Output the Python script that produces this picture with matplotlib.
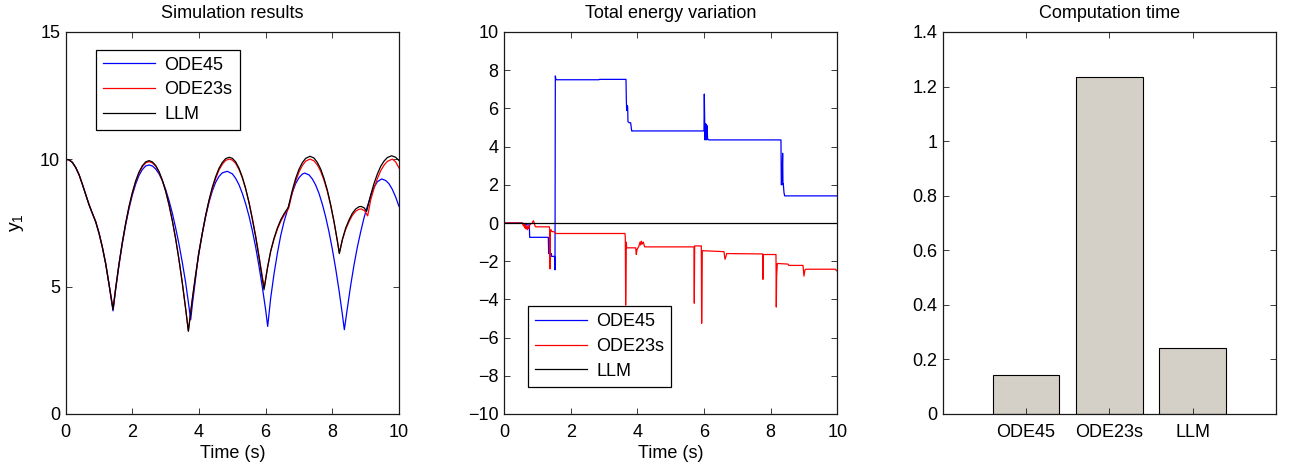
import matplotlib
matplotlib.use("Agg")
import matplotlib.pyplot as plt
from matplotlib.ticker import FormatStrFormatter

plt.rcParams['font.family'] = ['Liberation Sans', 'DejaVu Sans']
plt.rcParams['mathtext.fontset'] = 'custom'
plt.rcParams['mathtext.rm'] = 'Liberation Sans'
plt.rcParams['mathtext.it'] = 'Liberation Sans'
plt.rcParams['axes.unicode_minus'] = True

# ---------------- data: simulation results (y1) ----------------
llm_t = [0, 0.1, 0.2, 0.3, 0.4, 0.5, 0.6, 0.7, 0.77, 0.9, 1.0, 1.1, 1.2, 1.3, 1.42,
         1.5, 1.6, 1.7, 1.8, 1.9, 2.0, 2.1, 2.2, 2.3, 2.4, 2.5, 2.6, 2.7, 2.8, 2.9,
         3.0, 3.1, 3.2, 3.3, 3.4, 3.5, 3.6, 3.68, 3.8, 3.9, 4.0, 4.1, 4.2, 4.3, 4.4,
         4.5, 4.6, 4.7, 4.8, 4.91, 5.0, 5.1, 5.2, 5.3, 5.4, 5.5, 5.6, 5.7, 5.8, 5.9,
         5.95, 6.05, 6.15, 6.25, 6.35, 6.45, 6.55, 6.68, 6.8, 6.9, 7.0, 7.1, 7.2,
         7.33, 7.45, 7.55, 7.65, 7.75, 7.85, 7.95, 8.05, 8.15, 8.21, 8.3, 8.4, 8.5,
         8.6, 8.7, 8.8, 8.86, 8.95, 9.03, 9.15, 9.25, 9.35, 9.45, 9.55, 9.65, 9.78,
         9.9, 10.0]
llm_y = [10.0, 9.98, 9.88, 9.68, 9.40, 9.02, 8.62, 8.22, 7.98, 7.55, 7.10, 6.55, 5.90, 5.10, 4.10,
         4.95, 5.90, 6.75, 7.50, 8.15, 8.70, 9.15, 9.50, 9.75, 9.90, 9.95, 9.90, 9.76, 9.52, 9.18,
         8.75, 8.22, 7.59, 6.87, 6.05, 5.13, 4.12, 3.25, 4.52, 5.48, 6.35, 7.12, 7.81, 8.40, 8.91,
         9.32, 9.65, 9.88, 10.03, 10.08, 10.04, 9.90, 9.65, 9.30, 8.85, 8.30, 7.65, 6.95, 6.15, 5.30,
         4.88, 5.70, 6.40, 6.90, 7.30, 7.62, 7.86, 8.12, 8.79, 9.25, 9.61, 9.87, 10.04,
         10.12, 10.05, 9.88, 9.62, 9.25, 8.79, 8.22, 7.56, 6.80, 6.30, 6.85, 7.30, 7.62,
         7.88, 8.05, 8.14, 8.15, 8.10, 7.96, 8.60, 9.05, 9.42, 9.72, 9.93, 10.07, 10.14,
         10.08, 9.95]

ode23s_t = [0, 0.1, 0.2, 0.3, 0.4, 0.5, 0.6, 0.7, 0.77, 0.9, 1.0, 1.1, 1.2, 1.3, 1.42,
            1.5, 1.6, 1.7, 1.8, 1.9, 2.0, 2.1, 2.2, 2.3, 2.4, 2.5, 2.6, 2.7, 2.8, 2.9,
            3.0, 3.1, 3.2, 3.3, 3.4, 3.5, 3.6, 3.68, 3.8, 3.9, 4.0, 4.1, 4.2, 4.3, 4.4,
            4.5, 4.6, 4.7, 4.8, 4.91, 5.0, 5.1, 5.2, 5.3, 5.4, 5.5, 5.6, 5.7, 5.8, 5.9,
            5.96, 6.05, 6.15, 6.25, 6.35, 6.45, 6.55, 6.69, 6.8, 6.9, 7.0, 7.1, 7.2,
            7.33, 7.45, 7.55, 7.65, 7.75, 7.85, 7.95, 8.05, 8.15, 8.21, 8.3, 8.4, 8.5,
            8.6, 8.7, 8.8, 8.87, 8.97, 9.06, 9.15, 9.25, 9.35, 9.45, 9.55, 9.65, 9.8,
            9.9, 10.0]
ode23s_y = [10.0, 9.98, 9.88, 9.68, 9.40, 9.02, 8.62, 8.22, 7.98, 7.55, 7.10, 6.55, 5.90, 5.10, 4.12,
            4.95, 5.90, 6.74, 7.48, 8.13, 8.67, 9.12, 9.47, 9.71, 9.86, 9.91, 9.86, 9.73, 9.50, 9.16,
            8.74, 8.21, 7.58, 6.87, 6.05, 5.13, 4.12, 3.26, 4.52, 5.48, 6.34, 7.10, 7.78, 8.36, 8.85,
            9.25, 9.58, 9.81, 9.96, 10.01, 9.97, 9.84, 9.60, 9.27, 8.84, 8.31, 7.68, 6.99, 6.21, 5.39,
            4.98, 5.72, 6.38, 6.86, 7.25, 7.56, 7.80, 8.08, 8.70, 9.15, 9.50, 9.76, 9.93,
            10.01, 9.94, 9.78, 9.53, 9.18, 8.74, 8.19, 7.54, 6.80, 6.32, 6.83, 7.25, 7.55,
            7.80, 7.96, 8.04, 8.05, 7.98, 7.78, 8.40, 8.86, 9.24, 9.55, 9.77, 9.92, 10.01,
            9.90, 9.66]

ode45_t = [0, 0.1, 0.2, 0.3, 0.4, 0.5, 0.6, 0.7, 0.77, 0.9, 1.0, 1.1, 1.2, 1.3, 1.42,
           1.5, 1.6, 1.7, 1.8, 1.9, 2.0, 2.1, 2.2, 2.3, 2.4, 2.5, 2.6, 2.7, 2.8, 2.9,
           3.0, 3.1, 3.2, 3.3, 3.4, 3.5, 3.6, 3.7, 3.75, 3.8, 3.9, 3.98, 4.1, 4.2, 4.3,
           4.4, 4.5, 4.6, 4.7, 4.85, 5.0, 5.1, 5.2, 5.3, 5.4, 5.5, 5.6, 5.7, 5.8, 5.9,
           6.0, 6.06, 6.15, 6.25, 6.35, 6.45, 6.55, 6.68, 6.8, 6.9, 7.0, 7.1, 7.17,
           7.3, 7.4, 7.5, 7.6, 7.7, 7.8, 7.9, 8.0, 8.1, 8.2, 8.3, 8.36, 8.45, 8.55,
           8.65, 8.75, 8.85, 8.95, 9.05, 9.15, 9.25, 9.35, 9.48, 9.6, 9.7, 9.8, 9.9, 10.0]
ode45_y = [10.0, 9.98, 9.88, 9.68, 9.40, 9.02, 8.62, 8.22, 7.98, 7.55, 7.10, 6.55, 5.90, 5.08, 4.05,
           4.90, 5.85, 6.70, 7.43, 8.07, 8.60, 9.03, 9.37, 9.60, 9.74, 9.78, 9.74, 9.62, 9.43, 9.16,
           8.81, 8.38, 7.88, 7.30, 6.66, 5.94, 5.15, 4.20, 3.70, 4.30, 5.35, 6.25, 7.10, 7.76, 8.32,
           8.76, 9.10, 9.33, 9.47, 9.53, 9.43, 9.25, 9.00, 8.66, 8.25, 7.77, 7.20, 6.55, 5.80, 4.98,
           4.08, 3.44, 4.55, 5.50, 6.30, 7.00, 7.55, 8.12, 8.70, 9.05, 9.28, 9.42, 9.46,
           9.39, 9.23, 8.99, 8.66, 8.24, 7.74, 7.15, 6.47, 5.71, 4.86, 3.92, 3.31, 4.15, 5.05,
           5.85, 6.55, 7.15, 7.70, 8.15, 8.55, 8.90, 9.12, 9.23, 9.17, 9.04, 8.82, 8.52, 8.15]

# ---------------- data: total energy variation ----------------
e45_t = [0, 0.55, 0.6, 0.7, 0.76, 0.77, 1.33, 1.34, 1.42, 1.43, 1.52, 1.53, 1.54, 1.56,
         2.85, 2.86, 3.66, 3.67, 3.68, 3.69, 3.71, 3.72, 3.76, 3.80, 3.83, 3.84,
         6.00, 6.01, 6.02, 6.03, 6.05, 6.06, 6.07, 6.08, 6.09, 6.11, 6.14,
         8.31, 8.32, 8.34, 8.36, 8.37, 8.38, 8.40, 8.42, 10.0]
e45_E = [0, 0, -0.05, -0.1, -0.1, -0.75, -0.75, -1.6, -1.6, -1.75, -1.75, -2.45, 7.7, 7.5,
         7.5, 7.52, 7.52, 6.5, 5.9, 6.15, 6.1, 5.3, 5.25, 5.25, 4.82, 4.82,
         4.82, 6.75, 5.5, 4.35, 5.2, 4.4, 5.15, 4.35, 5.1, 4.4, 4.35,
         4.35, 2.0, 2.1, 3.65, 2.0, 2.05, 1.6, 1.42, 1.42]

e23_t = [0, 0.55, 0.58, 0.6, 0.62, 0.64, 0.66, 0.68, 0.70, 0.72, 0.74, 0.76, 0.80, 0.85,
         0.88, 0.90, 0.93, 0.95, 1.36, 1.37, 1.38, 1.39, 1.41, 1.44, 1.50, 1.55,
         3.63, 3.64, 3.65, 3.67, 3.68, 3.95, 3.97, 3.99, 4.05, 4.08, 4.10, 4.12, 4.15,
         4.18, 4.22, 5.70, 5.71, 5.72, 5.92, 5.93, 5.95, 6.60, 6.63, 6.66, 6.68,
         7.76, 7.77, 7.78, 8.16, 8.17, 8.18, 8.20, 8.52, 8.54, 8.97, 9.00, 9.03, 9.06,
         9.95, 9.97, 10.0]
e23_E = [0, 0, -0.15, -0.05, -0.25, -0.1, -0.3, -0.15, -0.35, -0.2, -0.3, -0.15, -0.05, 0.0,
         0.12, 0.05, -0.15, -0.2, -0.2, -0.3, -2.4, -0.5, -0.35, -0.45, -0.45, -0.55,
         -0.55, -0.8, -4.3, -1.0, -1.3, -1.3, -1.65, -1.4, -1.2, -1.0, -1.15, -0.95, -1.1,
         -1.0, -1.25, -1.25, -4.2, -1.2, -1.2, -5.25, -1.45, -1.5, -1.9, -1.75, -1.6,
         -1.62, -2.95, -1.65, -1.65, -4.4, -2.8, -2.12, -2.15, -2.22, -2.22, -2.78, -2.45, -2.42,
         -2.42, -2.5, -2.5]

ellm_t = [0, 10]
ellm_E = [0, 0]

# ---------------- data: computation time ----------------
methods = ['ODE45', 'ODE23s', 'LLM']
comp_time = [0.142, 1.234, 0.241]

labels = ['ODE45', 'ODE23s', 'LLM']
colors = ['#0000ff', '#ff0000', '#000000']

fig = plt.figure(figsize=(12.9, 4.68), dpi=100)
W, H = 1290, 468
def add_ax(x0):
    return fig.add_axes([x0 / W, 1 - 414 / H, 333.3 / W, 382 / H])

ax1 = add_ax(65.7)
ax2 = add_ax(504)
ax3 = add_ax(942.7)

FS = 13
def style(ax):
    for s in ax.spines.values():
        s.set_linewidth(0.9)
        s.set_color('#1a1a1a')
    ax.tick_params(direction='in', top=True, right=True, length=4, width=0.6,
                   labelsize=FS, colors='#1a1a1a', labelcolor='black')
    ax.tick_params(axis='y', pad=4)
    ax.tick_params(axis='x', pad=7)

legkw = dict(borderaxespad=0, fancybox=False, edgecolor='black', fontsize=FS,
             handlelength=2.9, handletextpad=0.5, labelspacing=0.42,
             borderpad=0.4, framealpha=1)

# left
for t, y, lab, c in zip([ode45_t, ode23s_t, llm_t], [ode45_y, ode23s_y, llm_y], labels, colors):
    ax1.plot(t, y, color=c, lw=0.9, label=lab)
ax1.set_xlim(0, 10)
ax1.set_ylim(0, 15)
ax1.set_xticks([0, 2, 4, 6, 8, 10])
ax1.set_yticks([0, 5, 10, 15])
ax1.set_title('Simulation results', fontsize=FS, pad=10)
ax1.set_xlabel('Time (s)', fontsize=FS, labelpad=3)
ax1.set_ylabel(r'$\mathrm{y}_1$', fontsize=FS + 1, labelpad=10)
style(ax1)
leg1 = ax1.legend(loc='upper left', bbox_to_anchor=(0.09, 0.954), **legkw)
leg1.get_frame().set_linewidth(0.9)

# middle
for t, e, lab, c in zip([e45_t, e23_t, ellm_t], [e45_E, e23_E, ellm_E], labels, colors):
    ax2.plot(t, e, color=c, lw=0.9, label=lab)
ax2.set_xlim(0, 10)
ax2.set_ylim(-10, 10)
ax2.set_xticks([0, 2, 4, 6, 8, 10])
ax2.set_yticks(list(range(-10, 11, 2)))
ax2.set_title('Total energy variation', fontsize=FS, pad=10)
ax2.set_xlabel('Time (s)', fontsize=FS, labelpad=3)
style(ax2)
leg2 = ax2.legend(loc='lower left', bbox_to_anchor=(0.071, 0.0714), **legkw)
leg2.get_frame().set_linewidth(0.9)

# right
pos = [1, 2, 3]
ax3.bar(pos, comp_time, width=0.8, color='#d4d0c8', edgecolor='black', linewidth=0.8)
ax3.set_xlim(0, 4)
ax3.set_ylim(0, 1.4)
ax3.set_xticks(pos)
ax3.set_xticklabels(methods)
ax3.set_yticks([0, 0.2, 0.4, 0.6, 0.8, 1.0, 1.2, 1.4])
ax3.yaxis.set_major_formatter(FormatStrFormatter('%g'))
ax3.set_title('Computation time', fontsize=FS, pad=10)
style(ax3)

fig.savefig('out.png', dpi=100)
